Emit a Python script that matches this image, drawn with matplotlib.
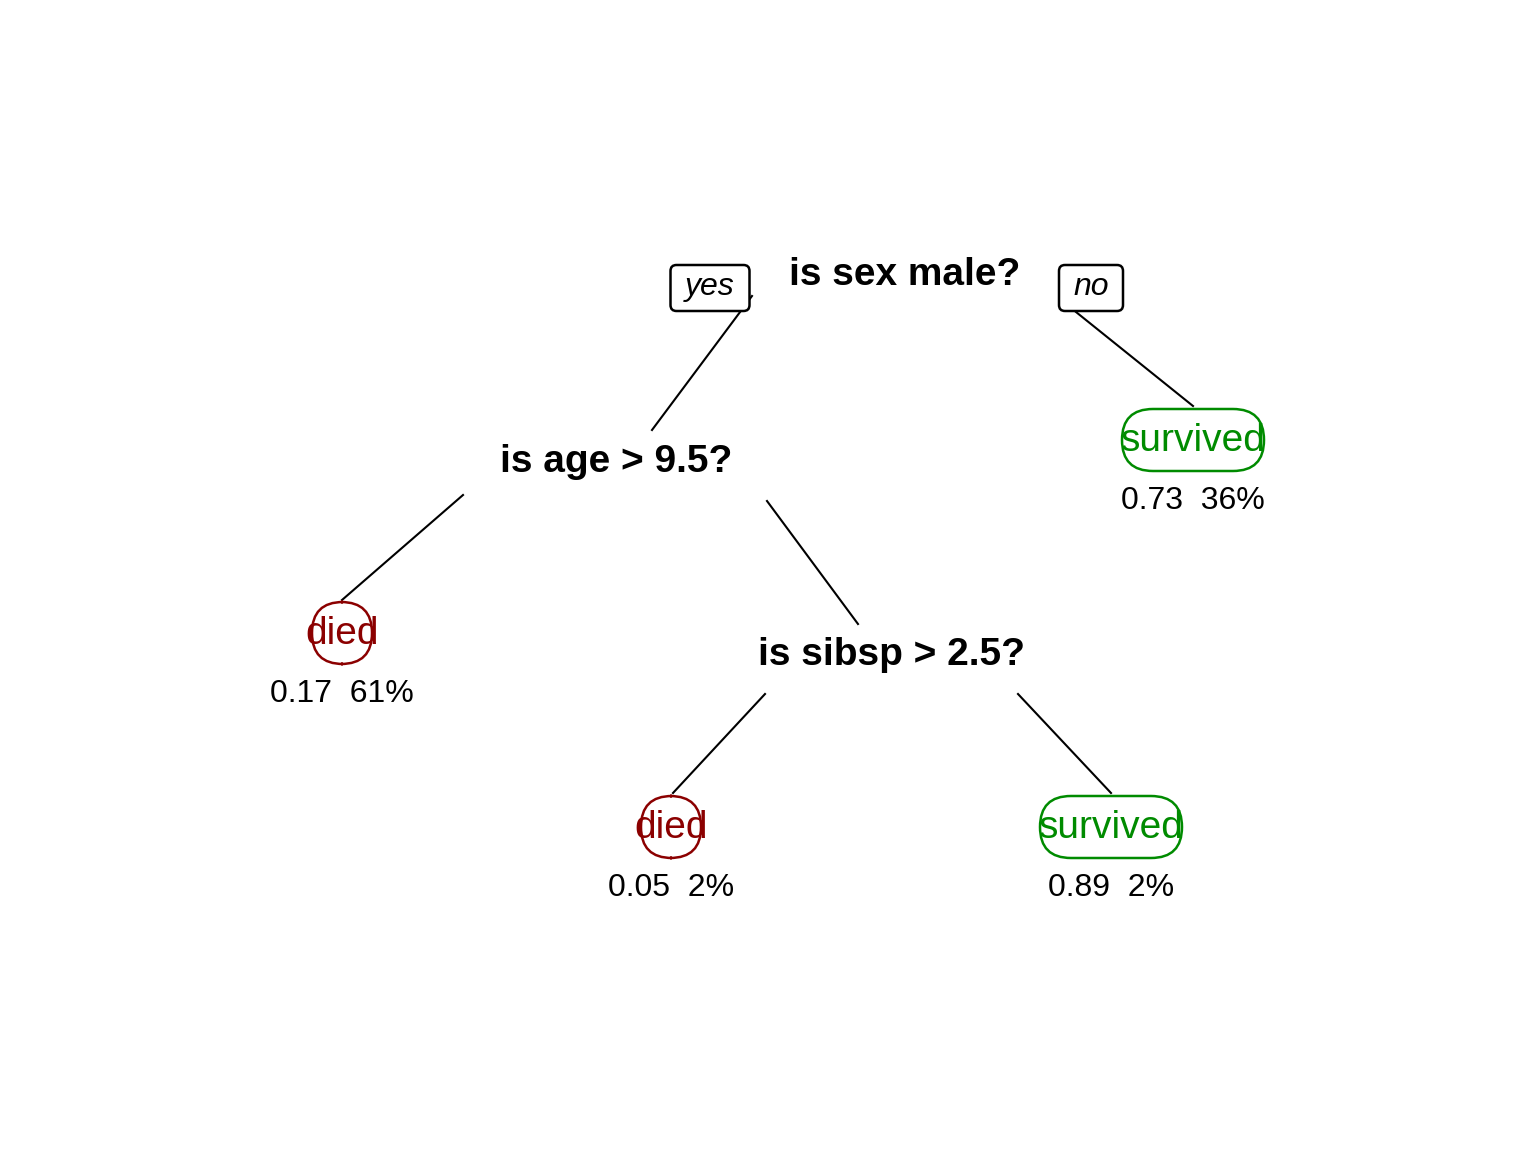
import matplotlib
matplotlib.use("Agg")
import matplotlib.pyplot as plt
from matplotlib.patches import FancyBboxPatch

plt.rcParams['font.family'] = ['Liberation Sans', 'DejaVu Sans']

# data
split_labels = ["is sex male?", "is age > 9.5?", "is sibsp > 2.5?"]
leaf_classes = ["survived", "died", "died", "survived"]
leaf_probs = [0.73, 0.17, 0.05, 0.89]
leaf_pcts = [36, 61, 2, 2]
branch_labels = ["yes", "no"]

# layout (pixel coordinates)
split_pos = [(905, 275), (616, 462), (892, 655)]
leaf_pos = [(1193, 440), (342, 633), (671, 827), (1111, 827)]
leaf_w = {"survived": 204, "died": 122}
edges = [((752, 296), (652, 430)), ((1076, 312), (1193, 406)),
         ((463, 495), (342, 600)), ((767, 501), (858, 624)),
         ((765, 694), (673, 793)), ((1018, 694), (1111, 793))]
colors = {"survived": "#008B00", "died": "#8B0000"}
fills = {"survived": "white", "died": "white"}

fig = plt.figure(figsize=(15.36, 11.52), dpi=100)
ax = fig.add_axes([0, 0, 1, 1])
ax.set_xlim(0, 1536)
ax.set_ylim(1152, 0)
ax.axis('off')

for (a, b) in edges:
    ax.plot([a[0], b[0]], [a[1], b[1]], color='black', lw=1.5, zorder=1)

for lab, (x, y) in zip(split_labels, split_pos):
    ax.text(x, y, lab, ha='center', va='center', fontsize=28, fontweight='bold', zorder=3)

for cls, p, pct, (x, y) in zip(leaf_classes, leaf_probs, leaf_pcts, leaf_pos):
    w, h = leaf_w[cls], 62
    box = FancyBboxPatch((x - w/2 + 31, y - h/2 + 0), w - 62, h,
                         boxstyle="round,pad=0,rounding_size=31",
                         fc='white', ec=colors[cls], lw=1.8, zorder=2)
    ax.add_patch(box)
    ax.text(x, y + 1, cls, ha='center', va='center', fontsize=28,
            color=colors[cls], zorder=3)
    ax.text(x, y + 61, f"{p:.2f}  {pct}%", ha='center', va='center', fontsize=23, zorder=3)

for lab, (x, y, w) in zip(branch_labels, [(710, 288, 79), (1091, 288, 64)]):
    box = FancyBboxPatch((x - w/2, y - 23), w, 46,
                         boxstyle="round,pad=0,rounding_size=6",
                         fc='white', ec='black', lw=1.8, zorder=2)
    ax.add_patch(box)
    ax.text(x, y - 1, lab, ha='center', va='center', fontsize=23,
            style='italic', zorder=3)

fig.savefig("out.png", dpi=100)
